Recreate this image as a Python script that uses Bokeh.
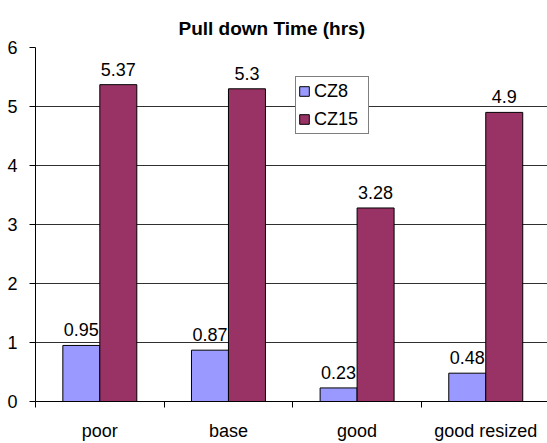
from bokeh.plotting import figure
from bokeh.models import ColumnDataSource, FixedTicker, LabelSet, Legend, LegendItem, Range1d
from bokeh.embed import file_html
from bokeh.resources import INLINE
from bokeh.core.properties import value

# ---- data ----
categories = ["poor", "base", "good", "good resized"]
cz8 = [0.95, 0.87, 0.23, 0.48]
cz15 = [5.37, 5.3, 3.28, 4.9]
series_names = ["CZ8", "CZ15"]
y_ticks = [0, 1, 2, 3, 4, 5, 6]
title_text = "Pull down Time (hrs)"

FONT = "Liberation Sans"
C8 = "#9999FF"
C15 = "#993366"
BW = 0.2875

centers = [i + 0.5 for i in range(len(categories))]
src8 = ColumnDataSource(dict(x=[c - BW / 2 for c in centers], top=cz8, lab=[str(v) for v in cz8]))
src15 = ColumnDataSource(dict(x=[c + BW / 2 for c in centers], top=cz15, lab=[str(v) for v in cz15]))

p = figure(width=547, height=443, output_backend="svg", toolbar_location=None,
           x_range=Range1d(0, 3.98), y_range=Range1d(0, 6),
           min_border_left=35, min_border_right=0, min_border_top=47, min_border_bottom=0)
p.outline_line_color = None
p.background_fill_color = "white"
p.border_fill_color = "white"

p.title.text = title_text
p.title.align = "left"
p.title.offset = 143
p.title.standoff = 17
p.title.text_font = FONT
p.title.text_font_size = "19px"
p.title.text_font_style = "bold"
p.title.text_color = "black"

r8 = p.vbar(x="x", top="top", width=BW, bottom=0, source=src8,
            fill_color=C8, line_color="black", line_width=1)
r15 = p.vbar(x="x", top="top", width=BW, bottom=0, source=src15,
             fill_color=C15, line_color="black", line_width=1)

for s in (src8, src15):
    p.add_layout(LabelSet(x="x", y="top", text="lab", source=s, text_align="center",
                          text_baseline="alphabetic", y_offset=9,
                          text_font=value(FONT), text_font_size=value("18px"),
                          text_color="black"))

# x axis: labels at centres, tick marks at category boundaries
p.xaxis.ticker = FixedTicker(ticks=centers, minor_ticks=list(range(len(categories) + 1)))
p.xaxis.major_label_overrides = {c: n for c, n in zip(centers, categories)}
p.xaxis.major_tick_out = 6
p.xaxis.major_tick_in = 0
p.xaxis.major_tick_line_color = None
p.xaxis.minor_tick_out = 6
p.xaxis.minor_tick_in = 0
p.xaxis.minor_tick_line_color = "black"
p.xaxis.major_label_standoff = 13
p.xaxis.major_label_text_font = FONT
p.xaxis.major_label_text_font_size = "18px"
p.xaxis.major_label_text_color = "black"
p.xaxis.axis_line_color = "black"

p.yaxis.ticker = FixedTicker(ticks=y_ticks)
p.yaxis.major_tick_out = 6
p.yaxis.major_tick_in = 0
p.yaxis.minor_tick_line_color = None
p.yaxis.major_label_standoff = 12
p.yaxis.major_label_text_font = FONT
p.yaxis.major_label_text_font_size = "18px"
p.yaxis.major_label_text_color = "black"
p.yaxis.axis_line_color = "black"
p.yaxis.major_tick_line_color = "black"

p.xgrid.grid_line_color = None
p.ygrid.grid_line_color = "#303030"
p.ygrid.ticker = FixedTicker(ticks=y_ticks)

legend = Legend(items=[LegendItem(label=series_names[0], renderers=[r8]),
                       LegendItem(label=series_names[1], renderers=[r15])],
                location=(260, 267), border_line_color="black", border_line_width=1,
                background_fill_color="white", background_fill_alpha=1,
                label_text_font=FONT, label_text_font_size="18px", label_text_color="black",
                glyph_width=12, glyph_height=12, label_height=24, label_width=52,
                label_standoff=4, spacing=4, padding=2, margin=0)
p.add_layout(legend, "center")

open("out.html", "w").write(file_html(p, INLINE))
